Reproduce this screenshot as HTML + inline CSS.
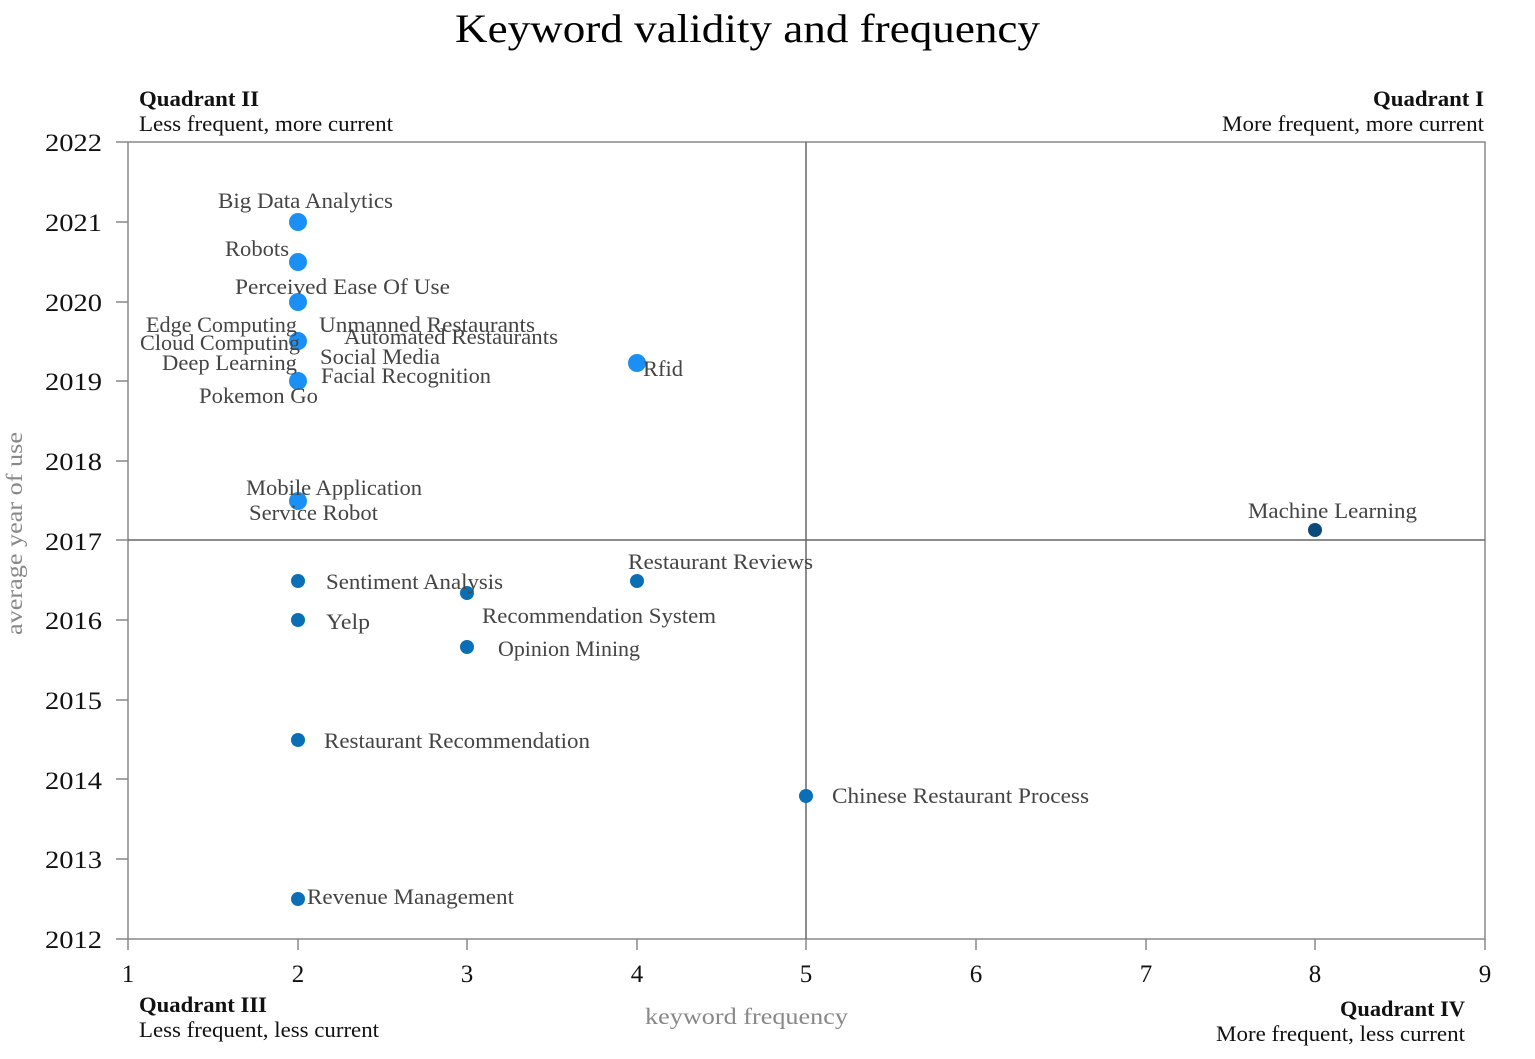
<!DOCTYPE html>
<html><head><meta charset="utf-8"><style>
html,body{margin:0;padding:0;background:#fff;}
</style></head><body>
<svg width="1535" height="1054" xmlns="http://www.w3.org/2000/svg" font-family="Liberation Serif, serif">
<text x="455" y="42" font-size="40" fill="#000" textLength="585" lengthAdjust="spacingAndGlyphs">Keyword  validity  and  frequency</text>
<rect x="128" y="142" width="1357" height="797" fill="none" stroke="#888" stroke-width="1.5"/>
<line x1="806" y1="142" x2="806" y2="939" stroke="#666" stroke-width="1.5"/>
<line x1="128" y1="540" x2="1485" y2="540" stroke="#666" stroke-width="1.5"/>
<g font-size="25" fill="#111">
<text x="45" y="151" textLength="57" lengthAdjust="spacingAndGlyphs">2022</text><text x="45" y="231" textLength="57" lengthAdjust="spacingAndGlyphs">2021</text><text x="45" y="311" textLength="57" lengthAdjust="spacingAndGlyphs">2020</text>
<text x="45" y="390" textLength="57" lengthAdjust="spacingAndGlyphs">2019</text><text x="45" y="470" textLength="57" lengthAdjust="spacingAndGlyphs">2018</text><text x="45" y="550" textLength="57" lengthAdjust="spacingAndGlyphs">2017</text>
<text x="45" y="629" textLength="57" lengthAdjust="spacingAndGlyphs">2016</text><text x="45" y="709" textLength="57" lengthAdjust="spacingAndGlyphs">2015</text><text x="45" y="789" textLength="57" lengthAdjust="spacingAndGlyphs">2014</text>
<text x="45" y="868" textLength="57" lengthAdjust="spacingAndGlyphs">2013</text><text x="45" y="948" textLength="57" lengthAdjust="spacingAndGlyphs">2012</text>
</g>
<g stroke="#888" stroke-width="1.5">
<line x1="116" y1="142" x2="128" y2="142"/><line x1="116" y1="222" x2="128" y2="222"/><line x1="116" y1="302" x2="128" y2="302"/><line x1="116" y1="381" x2="128" y2="381"/><line x1="116" y1="461" x2="128" y2="461"/><line x1="116" y1="540" x2="128" y2="540"/><line x1="116" y1="620" x2="128" y2="620"/><line x1="116" y1="700" x2="128" y2="700"/><line x1="116" y1="779" x2="128" y2="779"/><line x1="116" y1="859" x2="128" y2="859"/><line x1="116" y1="939" x2="128" y2="939"/>
<line x1="128" y1="939" x2="128" y2="950"/><line x1="298" y1="939" x2="298" y2="950"/><line x1="467" y1="939" x2="467" y2="950"/><line x1="637" y1="939" x2="637" y2="950"/><line x1="806" y1="939" x2="806" y2="950"/><line x1="976" y1="939" x2="976" y2="950"/><line x1="1146" y1="939" x2="1146" y2="950"/><line x1="1315" y1="939" x2="1315" y2="950"/><line x1="1485" y1="939" x2="1485" y2="950"/>
</g>
<g font-size="25" fill="#111" text-anchor="middle">
<text x="128" y="982">1</text><text x="298" y="982">2</text><text x="467" y="982">3</text><text x="637" y="982">4</text><text x="806" y="982">5</text><text x="976" y="982">6</text><text x="1146" y="982">7</text><text x="1315" y="982">8</text><text x="1485" y="982">9</text>
</g>
<text x="645" y="1024" font-size="23" fill="#888" textLength="203" lengthAdjust="spacingAndGlyphs">keyword frequency</text>
<text transform="translate(22,635) rotate(-90)" font-size="23" fill="#888" textLength="203" lengthAdjust="spacingAndGlyphs">average year of use</text>
<g font-size="22" fill="#111">
<text x="139" y="106" font-weight="bold" textLength="120" lengthAdjust="spacingAndGlyphs">Quadrant II</text><text x="139" y="131" textLength="254" lengthAdjust="spacingAndGlyphs">Less frequent, more current</text>
<text x="1373" y="106" font-weight="bold" textLength="111" lengthAdjust="spacingAndGlyphs">Quadrant I</text><text x="1222" y="131" textLength="262" lengthAdjust="spacingAndGlyphs">More frequent, more current</text>
<text x="139" y="1012" font-weight="bold" textLength="128" lengthAdjust="spacingAndGlyphs">Quadrant III</text><text x="139" y="1037" textLength="240" lengthAdjust="spacingAndGlyphs">Less frequent, less current</text>
<text x="1340" y="1016" font-weight="bold" textLength="125" lengthAdjust="spacingAndGlyphs">Quadrant IV</text><text x="1216" y="1041" textLength="249" lengthAdjust="spacingAndGlyphs">More frequent, less current</text>
</g>
<g fill="#1a90f5">
<circle cx="298" cy="222" r="9"/><circle cx="298" cy="262" r="9"/><circle cx="298" cy="302" r="9"/><circle cx="298" cy="341" r="9"/><circle cx="298" cy="381" r="9"/><circle cx="637" cy="363" r="9"/><circle cx="298" cy="501" r="9"/>
</g>
<g fill="#0b6fb5">
<circle cx="298" cy="581" r="7"/><circle cx="298" cy="620" r="7"/><circle cx="467" cy="593" r="7"/><circle cx="467" cy="647" r="7"/><circle cx="637" cy="581" r="7"/><circle cx="298" cy="740" r="7"/><circle cx="806" cy="796" r="7"/><circle cx="298" cy="899" r="7"/>
</g>
<circle cx="1315" cy="530" r="7" fill="#0b4a7a"/>
<g font-size="22" fill="#444" lengthAdjust="spacingAndGlyphs">
<text x="218" y="208" textLength="175" lengthAdjust="spacingAndGlyphs">Big Data Analytics</text>
<text x="225" y="256" textLength="64" lengthAdjust="spacingAndGlyphs">Robots</text>
<text x="235" y="294" textLength="215" lengthAdjust="spacingAndGlyphs">Perceived Ease Of Use</text>
<text x="146" y="332" textLength="151" lengthAdjust="spacingAndGlyphs">Edge Computing</text>
<text x="319" y="332" textLength="216" lengthAdjust="spacingAndGlyphs">Unmanned Restaurants</text>
<text x="344" y="344" textLength="214" lengthAdjust="spacingAndGlyphs">Automated Restaurants</text>
<text x="140" y="350" textLength="160" lengthAdjust="spacingAndGlyphs">Cloud Computing</text>
<text x="320" y="364" textLength="120" lengthAdjust="spacingAndGlyphs">Social Media</text>
<text x="162" y="370" textLength="135" lengthAdjust="spacingAndGlyphs">Deep Learning</text>
<text x="321" y="383" textLength="170" lengthAdjust="spacingAndGlyphs">Facial Recognition</text>
<text x="199" y="403" textLength="119" lengthAdjust="spacingAndGlyphs">Pokemon Go</text>
<text x="643" y="376" textLength="40" lengthAdjust="spacingAndGlyphs">Rfid</text>
<text x="246" y="495" textLength="176" lengthAdjust="spacingAndGlyphs">Mobile  Application</text>
<text x="249" y="520" textLength="129" lengthAdjust="spacingAndGlyphs">Service Robot</text>
<text x="1248" y="518" textLength="169" lengthAdjust="spacingAndGlyphs">Machine Learning</text>
<text x="628" y="569" textLength="185" lengthAdjust="spacingAndGlyphs">Restaurant Reviews</text>
<text x="326" y="589" textLength="177" lengthAdjust="spacingAndGlyphs">Sentiment  Analysis</text>
<text x="482" y="623" textLength="234" lengthAdjust="spacingAndGlyphs">Recommendation System</text>
<text x="326" y="629" textLength="44" lengthAdjust="spacingAndGlyphs">Yelp</text>
<text x="498" y="656" textLength="142" lengthAdjust="spacingAndGlyphs">Opinion  Mining</text>
<text x="324" y="748" textLength="266" lengthAdjust="spacingAndGlyphs">Restaurant Recommendation</text>
<text x="832" y="803" textLength="257" lengthAdjust="spacingAndGlyphs">Chinese Restaurant Process</text>
<text x="307" y="904" textLength="207" lengthAdjust="spacingAndGlyphs">Revenue Management</text>
</g>
</svg>
</body></html>
